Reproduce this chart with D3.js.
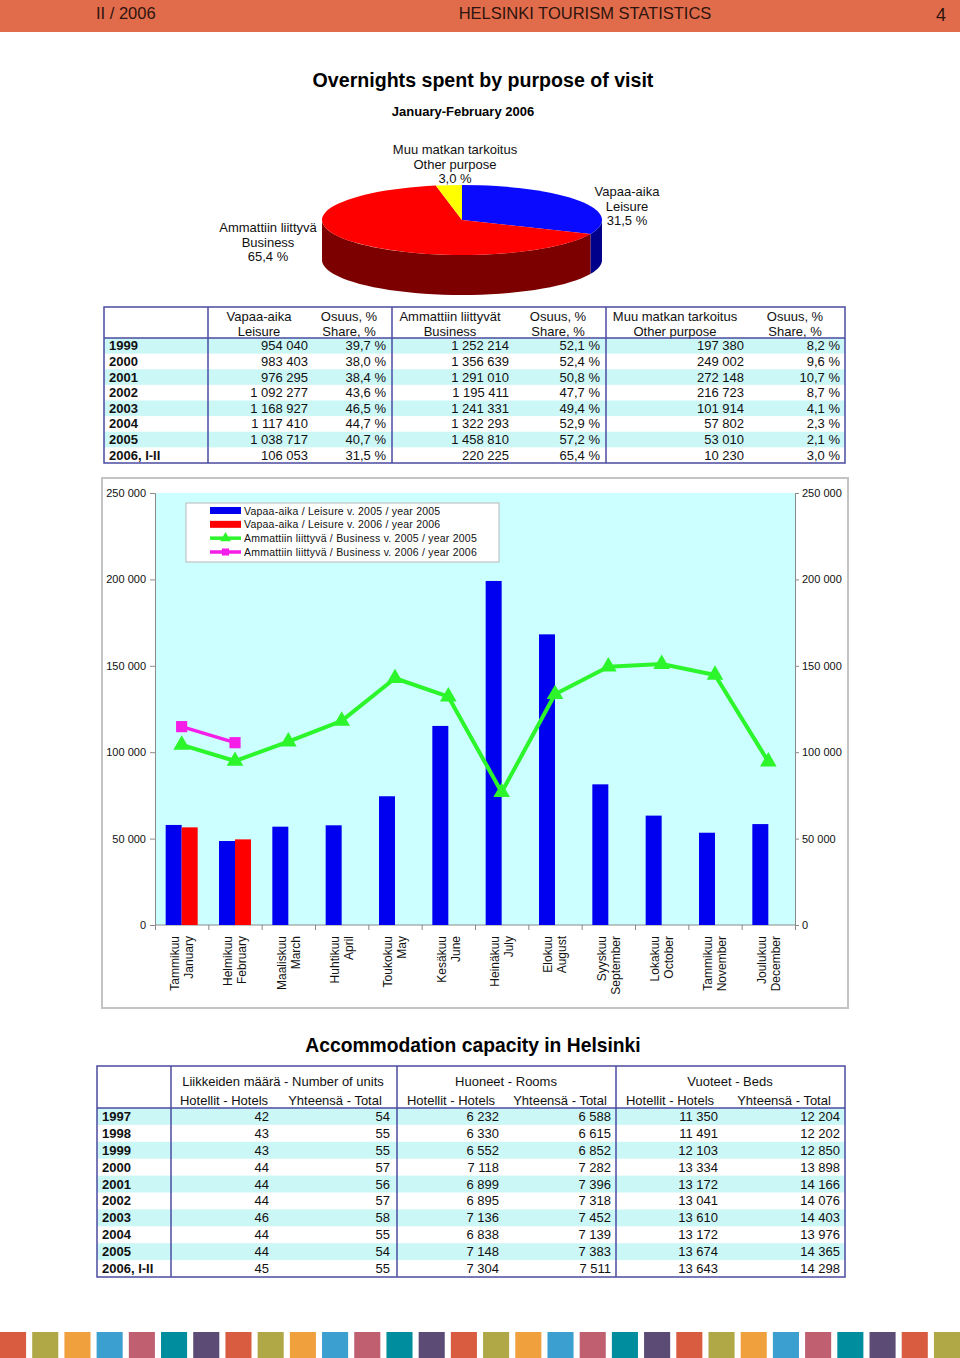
<!DOCTYPE html>
<html>
<head>
<meta charset="utf-8">
<script src="https://cdnjs.cloudflare.com/ajax/libs/d3/7.8.5/d3.min.js"></script>
<style>
  body { margin: 0; background: #fff; }
  svg { display: block; font-family: "Liberation Sans", Arial, Helvetica, sans-serif; }
</style>
</head>
<body>
<script>
// ---- pie: overnights by purpose, Jan-Feb 2006 ----
const pieNames = [["Vapaa-aika", "Leisure"], ["Ammattiin liittyvä", "Business"], ["Muu matkan tarkoitus", "Other purpose"]];
const pieShares = [31.5, 65.4, 3.0];

// ---- table 1: overnights by purpose per year ----
const purposeYears = ["1999", "2000", "2001", "2002", "2003", "2004", "2005", "2006, I-II"];
const leisure = [954040, 983403, 976295, 1092277, 1168927, 1117410, 1038717, 106053];
const leisureShare = [39.7, 38.0, 38.4, 43.6, 46.5, 44.7, 40.7, 31.5];
const business = [1252214, 1356639, 1291010, 1195411, 1241331, 1322293, 1458810, 220225];
const businessShare = [52.1, 52.4, 50.8, 47.7, 49.4, 52.9, 57.2, 65.4];
const other = [197380, 249002, 272148, 216723, 101914, 57802, 53010, 10230];
const otherShare = [8.2, 9.6, 10.7, 8.7, 4.1, 2.3, 2.1, 3.0];

// ---- monthly chart ----
const monthsFi = ["Tammikuu", "Helmikuu", "Maaliskuu", "Huhtikuu", "Toukokuu", "Kesäkuu", "Heinäkuu", "Elokuu", "Syyskuu", "Lokakuu", "Tammikuu", "Joulukuu"];
const monthsEn = ["January", "February", "March", "April", "May", "June", "July", "August", "September", "October", "November", "December"];
const leisure2005 = [57900, 48600, 56900, 57700, 74500, 115200, 199100, 168200, 81400, 63300, 53400, 58400];
const leisure2006 = [56500, 49550];
const business2005 = [104200, 94900, 106100, 118100, 142800, 132100, 76800, 133500, 149500, 151000, 144700, 94500];
const business2006 = [114800, 105500];
const yTicks = [0, 50000, 100000, 150000, 200000, 250000];
const legendLabels = [
  "Vapaa-aika / Leisure v. 2005 / year 2005",
  "Vapaa-aika / Leisure v. 2006 / year 2006",
  "Ammattiin liittyvä / Business v. 2005 / year 2005",
  "Ammattiin liittyvä / Business v. 2006 / year 2006"
];

// ---- table 2: accommodation capacity ----
const capYears = ["1997", "1998", "1999", "2000", "2001", "2002", "2003", "2004", "2005", "2006, I-II"];
const unitsHotels = [42, 43, 43, 44, 44, 44, 46, 44, 44, 45];
const unitsTotal = [54, 55, 55, 57, 56, 57, 58, 55, 54, 55];
const roomsHotels = [6232, 6330, 6552, 7118, 6899, 6895, 7136, 6838, 7148, 7304];
const roomsTotal = [6588, 6615, 6852, 7282, 7396, 7318, 7452, 7139, 7383, 7511];
const bedsHotels = [11350, 11491, 12103, 13334, 13172, 13041, 13610, 13172, 13674, 13643];
const bedsTotal = [12204, 12202, 12850, 13898, 14166, 14076, 14403, 13976, 14365, 14298];

const stripeColors = ["#d95c40", "#b0a846", "#f0a13e", "#3b9fd0", "#bf5f70", "#008e9e", "#5b4b75"];

const W = 960, H = 1358;
const fmtNum = v => d3.format(",")(v).replace(/,/g, " ");
const fmtPct = v => d3.format(".1f")(v).replace(".", ",") + " %";
const BAND = "#ccf7f7", BORDER = "#4b4ba0";

const svg = d3.select("body").append("svg").attr("width", W).attr("height", H);

// header band
svg.append("rect").attr("x", 0).attr("y", 0).attr("width", W).attr("height", 32).attr("fill", "#e06c4c");
const head = svg.append("g").attr("font-size", 16.5).attr("fill", "#2e140c");
head.append("text").attr("x", 96).attr("y", 19).text("II / 2006");
head.append("text").attr("x", 585).attr("y", 19).attr("text-anchor", "middle").text("HELSINKI TOURISM STATISTICS");
head.append("text").attr("x", 941).attr("y", 21).attr("text-anchor", "middle").attr("font-size", 18).text("4");

// titles
svg.append("text").attr("x", 483).attr("y", 87).attr("text-anchor", "middle")
  .attr("font-size", 19.6).attr("font-weight", "bold").text("Overnights spent by purpose of visit");
svg.append("text").attr("x", 463).attr("y", 116).attr("text-anchor", "middle")
  .attr("font-size", 13).attr("font-weight", "bold").text("January-February 2006");

// ---- 3D pie ----
const pc = { x: 462, y: 220, rx: 140, ry: 35, depth: 40 };
const topCol = ["#0a0aff", "#ff0000", "#ffff00"];
const sideCol = ["#00008a", "#7d0000", "#8a8a00"];
const arcs = d3.pie().sort(null)(pieShares);
const ePt = (a, dy) => [pc.x + pc.rx * Math.sin(a), pc.y - pc.ry * Math.cos(a) + dy];

arcs.forEach((d, i) => {
  const s = Math.max(d.startAngle, Math.PI / 2), e = Math.min(d.endAngle, 3 * Math.PI / 2);
  if (e <= s) return;
  const angs = d3.range(0, 41).map(k => s + (e - s) * k / 40);
  const pts = angs.map(a => ePt(a, 0)).concat(angs.slice().reverse().map(a => ePt(a, pc.depth)));
  svg.append("path").attr("d", d3.line()(pts) + "Z").attr("fill", sideCol[i]);
});
const pieTop = svg.append("g").attr("transform", `translate(${pc.x},${pc.y}) scale(1,${pc.ry / pc.rx})`);
pieTop.selectAll("path").data(arcs).join("path")
  .attr("d", d3.arc().innerRadius(0).outerRadius(pc.rx))
  .attr("fill", (d, i) => topCol[i]);

const pieLabelPos = [[627, 192], [268, 228], [455, 150]];
arcs.forEach((d, i) => {
  const t = svg.append("text").attr("font-size", 13).attr("text-anchor", "middle").attr("fill", "#111");
  const lines = pieNames[i].concat([fmtPct(pieShares[i])]);
  lines.forEach((l, k) => t.append("tspan").attr("x", pieLabelPos[i][0]).attr("y", pieLabelPos[i][1] + 4 + k * 14.7).text(l));
});

// ---- generic table ----
function drawTable(cfg) {
  const g = svg.append("g").attr("font-size", 13).attr("fill", "#111");
  const rowY = d3.scaleBand().domain(cfg.rows).range([cfg.headBottom, cfg.bottom]);
  g.selectAll("rect.band").data(cfg.rows.filter((r, i) => i % 2 === 0)).join("rect")
    .attr("x", cfg.x0).attr("width", cfg.x1 - cfg.x0)
    .attr("y", r => rowY(r)).attr("height", rowY.bandwidth()).attr("fill", BAND);
  g.selectAll("text.year").data(cfg.rows).join("text")
    .attr("x", cfg.x0 + 5).attr("y", r => rowY(r) + rowY.bandwidth() / 2 + 4.5)
    .attr("font-weight", "bold").text(r => r);
  cfg.columns.forEach(c => {
    g.selectAll(null).data(c.values).join("text")
      .attr("x", c.right).attr("y", (v, i) => rowY(cfg.rows[i]) + rowY.bandwidth() / 2 + 4.5)
      .attr("text-anchor", "end").text(c.format);
  });
  cfg.headers.forEach(h => {
    g.append("text").attr("x", h.x).attr("y", h.y + 4.5).attr("text-anchor", "middle").text(h.text);
  });
  const lines = g.append("g").attr("stroke", BORDER).attr("stroke-width", 1.5).attr("fill", "none");
  lines.append("rect").attr("x", cfg.x0).attr("y", cfg.top).attr("width", cfg.x1 - cfg.x0).attr("height", cfg.bottom - cfg.top);
  lines.append("line").attr("x1", cfg.x0).attr("x2", cfg.x1).attr("y1", cfg.headBottom).attr("y2", cfg.headBottom);
  cfg.dividers.forEach(x => lines.append("line").attr("x1", x).attr("x2", x).attr("y1", cfg.top).attr("y2", cfg.bottom));
}

drawTable({
  x0: 104, x1: 845, top: 307, headBottom: 338, bottom: 463,
  dividers: [208, 392, 606],
  rows: purposeYears,
  columns: [
    { values: leisure, format: fmtNum, right: 308 },
    { values: leisureShare, format: fmtPct, right: 386 },
    { values: business, format: fmtNum, right: 509 },
    { values: businessShare, format: fmtPct, right: 600 },
    { values: other, format: fmtNum, right: 744 },
    { values: otherShare, format: fmtPct, right: 840 }
  ],
  headers: [
    { text: "Vapaa-aika", x: 259, y: 316 }, { text: "Leisure", x: 259, y: 331 },
    { text: "Osuus, %", x: 349, y: 316 }, { text: "Share, %", x: 349, y: 331 },
    { text: "Ammattiin liittyvät", x: 450, y: 316 }, { text: "Business", x: 450, y: 331 },
    { text: "Osuus, %", x: 558, y: 316 }, { text: "Share, %", x: 558, y: 331 },
    { text: "Muu matkan tarkoitus", x: 675, y: 316 }, { text: "Other purpose", x: 675, y: 331 },
    { text: "Osuus, %", x: 795, y: 316 }, { text: "Share, %", x: 795, y: 331 }
  ]
});

// ---- monthly combo chart ----
svg.append("rect").attr("x", 102).attr("y", 478).attr("width", 746).attr("height", 530)
  .attr("fill", "#fff").attr("stroke", "#c4c4c4").attr("stroke-width", 2);
const plot = { l: 155, r: 795, t: 493, b: 925 };
svg.append("rect").attr("x", plot.l).attr("y", plot.t).attr("width", plot.r - plot.l).attr("height", plot.b - plot.t).attr("fill", "#ccffff");

const x0 = d3.scaleBand().domain(d3.range(12)).range([plot.l, plot.r]).paddingInner(0.4).paddingOuter(0.2);
const x1 = d3.scaleBand().domain([0, 1]).range([0, x0.bandwidth()]);
const y = d3.scaleLinear().domain([0, 250000]).range([plot.b, plot.t]);
const cx = i => x0(i) + x0.bandwidth() / 2;

const axL = svg.append("g").attr("transform", `translate(${plot.l},0)`)
  .call(d3.axisLeft(y).tickValues(yTicks).tickSize(5).tickPadding(4).tickFormat(fmtNum));
const axR = svg.append("g").attr("transform", `translate(${plot.r},0)`)
  .call(d3.axisRight(y).tickValues(yTicks).tickSize(4).tickPadding(3).tickFormat(fmtNum));
const xTick = d3.scaleLinear().domain([0, 12]).range([plot.l, plot.r]);
const axB = svg.append("g").attr("transform", `translate(0,${plot.b})`)
  .call(d3.axisBottom(xTick).tickValues(d3.range(13)).tickSize(5).tickFormat(""));
[axL, axR, axB].forEach(a => {
  a.selectAll("path, line").attr("stroke", "#8a8a8a");
  a.selectAll("text").attr("font-size", 11).attr("fill", "#111").attr("font-family", "'Liberation Sans', Arial, sans-serif");
});
axB.select(".domain").remove();
svg.append("line").attr("x1", plot.l).attr("x2", plot.r).attr("y1", plot.b).attr("y2", plot.b).attr("stroke", "#8a8a8a");

// bars
svg.append("g").selectAll("rect").data(leisure2005).join("rect")
  .attr("x", (v, i) => x0(i) + x1(0)).attr("width", x1.bandwidth())
  .attr("y", v => y(v)).attr("height", v => y(0) - y(v)).attr("fill", "#0000f0");
svg.append("g").selectAll("rect").data(leisure2006).join("rect")
  .attr("x", (v, i) => x0(i) + x1(1)).attr("width", x1.bandwidth())
  .attr("y", v => y(v)).attr("height", v => y(0) - y(v)).attr("fill", "#ff0000");

// lines
const GREEN = "#2cf52c", MAGENTA = "#f51ee8";
const lineGen = d3.line().x((v, i) => cx(i)).y(v => y(v));
svg.append("path").attr("d", lineGen(business2005)).attr("fill", "none").attr("stroke", GREEN).attr("stroke-width", 4).attr("stroke-linejoin", "round");
svg.append("g").selectAll("path").data(business2005).join("path")
  .attr("transform", (v, i) => `translate(${cx(i)},${y(v)})`)
  .attr("d", d3.symbol(d3.symbolTriangle, 120)).attr("fill", GREEN);
svg.append("path").attr("d", lineGen(business2006)).attr("fill", "none").attr("stroke", MAGENTA).attr("stroke-width", 3.5);
svg.append("g").selectAll("path").data(business2006).join("path")
  .attr("transform", (v, i) => `translate(${cx(i)},${y(v)})`)
  .attr("d", d3.symbol(d3.symbolSquare, 125)).attr("fill", MAGENTA);

// legend
const lg = svg.append("g");
lg.append("rect").attr("x", 186).attr("y", 503).attr("width", 313).attr("height", 59).attr("fill", "#fff").attr("stroke", "#b8b8b8");
const legY = d3.scalePoint().domain(d3.range(4)).range([510.5, 552]);
const swatch = [
  { type: "bar", col: "#0000f0" }, { type: "bar", col: "#ff0000" },
  { type: "line", col: GREEN, sym: d3.symbolTriangle }, { type: "line", col: MAGENTA, sym: d3.symbolSquare }
];
swatch.forEach((s, i) => {
  const yy = legY(i);
  if (s.type === "bar") {
    lg.append("rect").attr("x", 210).attr("y", yy - 3.5).attr("width", 31).attr("height", 7).attr("fill", s.col);
  } else {
    lg.append("line").attr("x1", 210).attr("x2", 241).attr("y1", yy).attr("y2", yy).attr("stroke", s.col).attr("stroke-width", 3.5);
    lg.append("path").attr("transform", `translate(225.5,${yy})`).attr("d", d3.symbol(s.sym, 50)).attr("fill", s.col);
  }
  lg.append("text").attr("x", 244).attr("y", yy + 4).attr("font-size", 10.5).attr("letter-spacing", 0.22)
    .attr("fill", "#111").text(legendLabels[i]);
});

// month labels
const ml = svg.append("g").attr("font-size", 12).attr("fill", "#111");
monthsEn.forEach((m, i) => {
  const t = ml.append("text").attr("transform", `translate(${cx(i)},936) rotate(-90)`).attr("text-anchor", "end");
  t.append("tspan").attr("x", 0).attr("y", -7).attr("dy", "0.35em").text(monthsFi[i]);
  t.append("tspan").attr("x", 0).attr("y", 7).attr("dy", "0.35em").text(m);
});

// ---- accommodation capacity ----
svg.append("text").attr("x", 473).attr("y", 1052).attr("text-anchor", "middle")
  .attr("font-size", 19.3).attr("font-weight", "bold").text("Accommodation capacity in Helsinki");

drawTable({
  x0: 97, x1: 845, top: 1066, headBottom: 1108, bottom: 1277,
  dividers: [171, 397, 616],
  rows: capYears,
  columns: [
    { values: unitsHotels, format: fmtNum, right: 269 },
    { values: unitsTotal, format: fmtNum, right: 390 },
    { values: roomsHotels, format: fmtNum, right: 499 },
    { values: roomsTotal, format: fmtNum, right: 611 },
    { values: bedsHotels, format: fmtNum, right: 718 },
    { values: bedsTotal, format: fmtNum, right: 840 }
  ],
  headers: [
    { text: "Liikkeiden määrä - Number of units", x: 283, y: 1081 },
    { text: "Huoneet - Rooms", x: 506, y: 1081 },
    { text: "Vuoteet - Beds", x: 730, y: 1081 },
    { text: "Hotellit - Hotels", x: 224, y: 1100 }, { text: "Yhteensä - Total", x: 335, y: 1100 },
    { text: "Hotellit - Hotels", x: 451, y: 1100 }, { text: "Yhteensä - Total", x: 560, y: 1100 },
    { text: "Hotellit - Hotels", x: 670, y: 1100 }, { text: "Yhteensä - Total", x: 784, y: 1100 }
  ]
});

// ---- footer stripes ----
const stripeX = d3.scaleBand().domain(d3.range(30)).range([0, 960]).paddingInner(0.19).paddingOuter(0);
svg.append("g").selectAll("rect").data(d3.range(30)).join("rect")
  .attr("x", i => stripeX(i)).attr("width", stripeX.bandwidth())
  .attr("y", 1332).attr("height", H - 1332)
  .attr("fill", i => stripeColors[i % stripeColors.length]);
</script>
</body>
</html>
